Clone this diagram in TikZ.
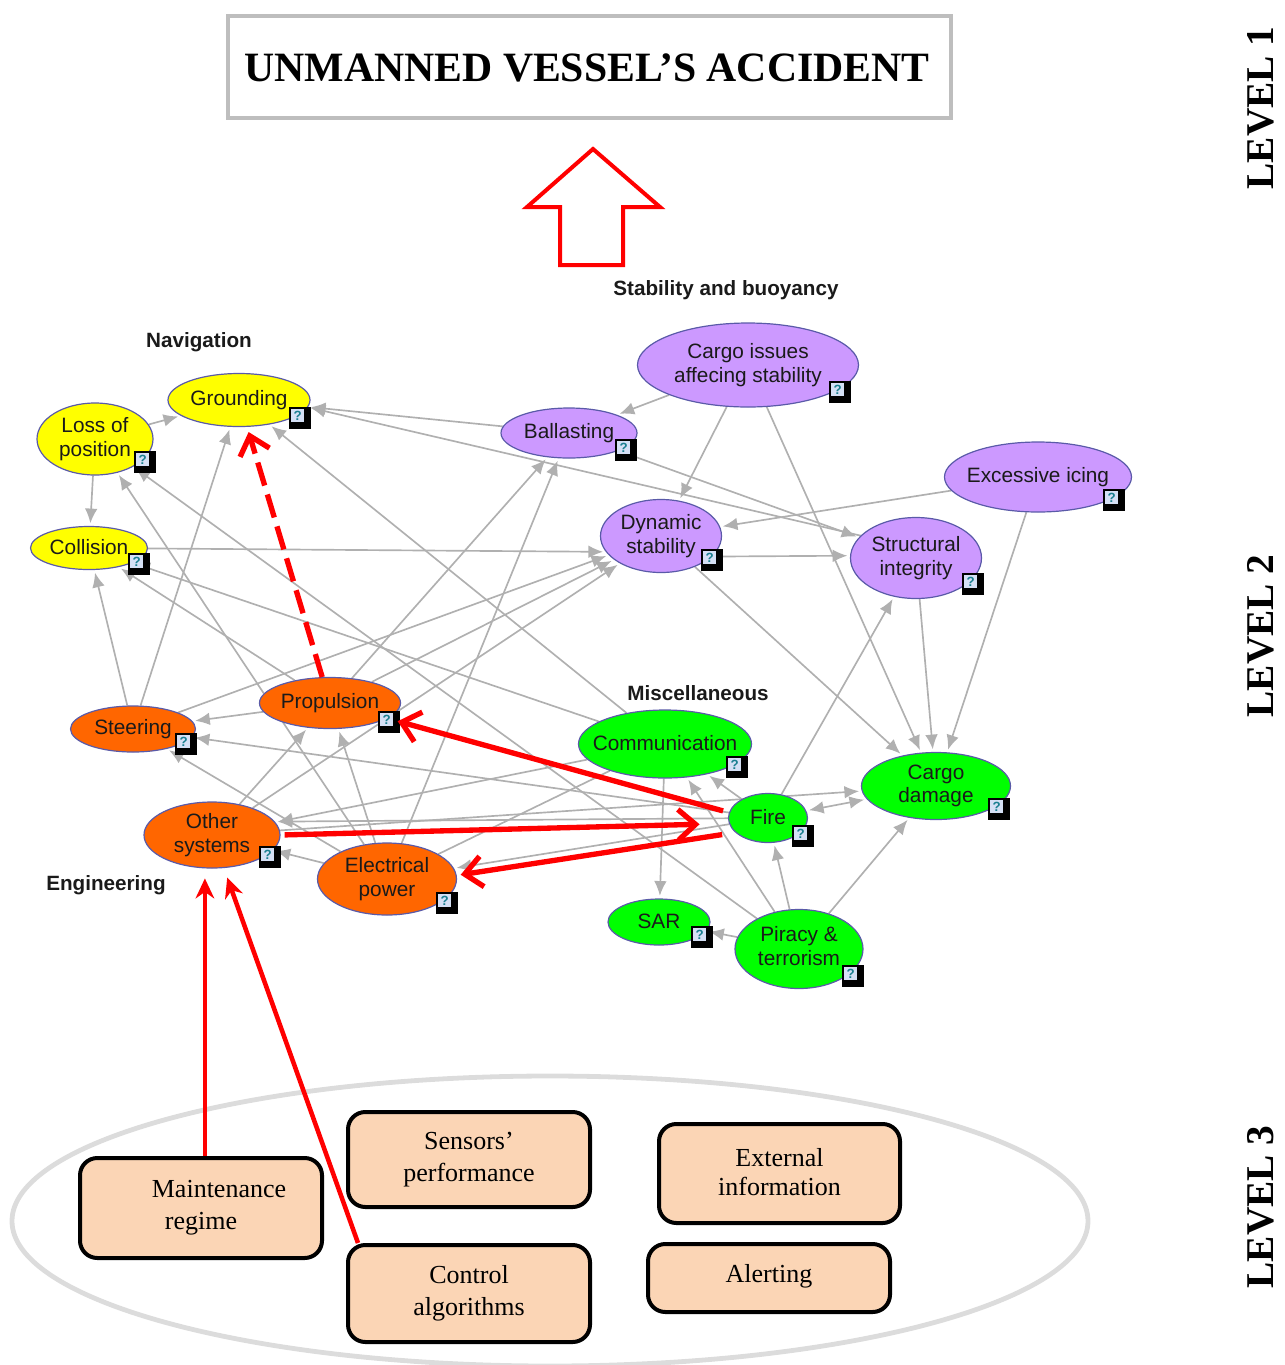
\documentclass[tikz,border=0pt]{standalone}
\usepackage{fontspec}
\setmainfont{Liberation Serif}
\setsansfont{Liberation Sans}
\usetikzlibrary{shapes.geometric,arrows.meta,backgrounds,calc}
\definecolor{edgegray}{HTML}{B0B0B0}
\definecolor{titlegray}{HTML}{BEBEBE}
\definecolor{ringgray}{HTML}{DCDCDC}
\definecolor{ellborder}{HTML}{5A5AA8}
\definecolor{nyellow}{HTML}{FFFF00}
\definecolor{norange}{HTML}{FF6600}
\definecolor{npurple}{HTML}{CC99FF}
\definecolor{ngreen}{HTML}{00FF00}
\definecolor{peach}{HTML}{FBD5B5}
\definecolor{redline}{HTML}{FF0000}
\definecolor{badgeq}{HTML}{1A7F90}
\definecolor{badgebg}{HTML}{D5E0F5}
\definecolor{inktext}{HTML}{1A1A1A}
\tikzset{
  sz/.style args={#1/#2}{minimum width=#1*0.75pt,minimum height=#2*0.75pt},
  ell/.style={ellipse,draw=ellborder,line width=0.9pt,inner xsep=-40pt,inner ysep=-25pt,align=center,text=inktext,
    font=\sffamily\fontsize{15.6}{17.8}\selectfont},
  cat/.style={font=\sffamily\bfseries\fontsize{15.5}{18}\selectfont,text=inktext},
  edge/.style={draw=edgegray,line width=1.25pt,shorten >=2pt,-{Latex[length=11pt,width=9.5pt]}},
  plainedge/.style={draw=edgegray,line width=1.25pt},
  bothedge/.style={draw=edgegray,line width=1.25pt,shorten >=2pt,shorten <=2pt,{Latex[length=11pt,width=9.5pt]}-{Latex[length=11pt,width=9.5pt]}},
  redarrow/.style={draw=redline,line width=4pt,-{Straight Barb[length=13pt,width=23pt]}},
  redup/.style={draw=redline,line width=3.4pt,-{Stealth[length=15pt,width=14pt]}},
  taskbox/.style={rounded corners=13pt,draw=black,line width=3pt,fill=peach,align=center,inner sep=0pt,
    font=\fontsize{19.5}{24}\selectfont},
  badgeout/.style={fill=black,minimum size=16.5pt,inner sep=0pt},
  badgein/.style={fill=badgebg,minimum size=10pt,inner sep=0pt,text=badgeq,font=\sffamily\bfseries\fontsize{10}{10}\selectfont},
  level/.style={rotate=90,font=\bfseries\fontsize{29.5}{31}\selectfont},
}
\newcommand{\askbadge}[3]{%
  \node[badgeout] (bo#1) at (#2,#3) {};
  \node[badgein,anchor=north west] (bi#1) at ($(bo#1.north west)+(2,2)$) {?};
}
\begin{document}
\begin{tikzpicture}[x=0.75pt,y=-0.75pt]
\useasboundingbox (0,0) rectangle (1285,1365);

% Level 1
\node[draw=titlegray,line width=3.6pt,sz=723/102,inner sep=0pt] (title) at (589.5,67) {};
\node[font=\bfseries\fontsize{31.3}{34}\selectfont] (titletext) at (587,68) {UNMANNED VESSEL’S ACCIDENT};
\draw[draw=redline,line width=3pt,line join=miter] (593,149) -- (660,207) -- (623,207) -- (623,265) -- (560,265) -- (560,207) -- (527,207) -- cycle;

\node[level] (l1) at (1261,108) {LEVEL 1};
\node[level] (l2) at (1261,636) {LEVEL 2};
\node[level] (l3) at (1261,1207) {LEVEL 3};

% categories
\node[cat] (cnav) at (199,342) {Navigation};
\node[cat] (cstab) at (726,290) {Stability and buoyancy};
\node[cat] (cmisc) at (698,693) {Miscellaneous};
\node[cat] (ceng) at (106,885) {Engineering};

% network nodes
\node[ell,fill=nyellow,sz=142/53] (ground) at (239,400) {\raisebox{0.8pt}{Grounding}};
\node[ell,fill=nyellow,sz=116/72] (loss) at (95,439) {Loss of\\position};
\node[ell,fill=nyellow,sz=117/43] (coll) at (89,548) {\raisebox{1pt}{Collision}};
\node[ell,fill=npurple,sz=136/50] (ball) at (569,433) {Ballasting};
\node[ell,fill=npurple,sz=221/84] (cargo) at (748,365) {Cargo issues\\affecing stability};
\node[ell,fill=npurple,sz=121/73] (dyn) at (661,536) {Dynamic\\stability};
\node[ell,fill=npurple,sz=131/81] (struct) at (916,558) {Structural\\integrity};
\node[ell,fill=npurple,sz=187/70] (icing) at (1038,477) {Excessive icing};
\node[ell,fill=norange,sz=125/46] (steer) at (133,729) {Steering};
\node[ell,fill=norange,sz=141/51] (prop) at (330,703) {Propulsion};
\node[ell,fill=norange,sz=136/66] (other) at (212,835) {Other\\systems};
\node[ell,fill=norange,sz=139/72] (elec) at (387,879) {Electrical\\power};
\node[ell,fill=ngreen,sz=173/68] (comm) at (665,744) {\raisebox{2pt}{Communication}};
\node[ell,fill=ngreen,sz=79/49] (fire) at (768,818) {\raisebox{1.5pt}{Fire}};
\node[ell,fill=ngreen,sz=149/67] (cdmg) at (936,786) {Cargo\\damage};
\node[ell,fill=ngreen,sz=102/46] (sar) at (659,922) {\raisebox{1.5pt}{SAR}};
\node[ell,fill=ngreen,sz=128/79] (piracy) at (799,949) {\raisebox{1pt}{\begin{tabular}{@{}c@{}}Piracy \&\\terrorism\end{tabular}}};

\begin{scope}[on background layer]
  \foreach \a/\b in {loss/ground,loss/coll,ball/ground,cargo/ball,cargo/dyn,cargo/cdmg,icing/dyn,icing/cdmg,
    dyn/cdmg,struct/cdmg,ball/struct,fire/struct,steer/dyn,prop/dyn,other/dyn,steer/coll,steer/ground,
    prop/coll,comm/coll,elec/loss,piracy/loss,comm/ground,prop/ball,elec/ball,other/prop,elec/prop,
    elec/other,elec/steer,prop/steer,fire/steer,comm/other,other/cdmg,fire/elec,fire/comm,piracy/comm,
    comm/sar,piracy/sar,piracy/fire,piracy/cdmg}
    {\draw[edge] (\a) -- (\b);}
  \draw[edge] (fire) -- (other.12);
  \draw[edge] (struct.158) -- (ground.-6);
  \draw[edge] (coll) -- (dyn.196);
  \draw[edge] (dyn.-22) -- (struct.178);
  \draw[plainedge] (elec) -- (comm);
  \draw[bothedge] (fire) -- (cdmg);
\end{scope}

% badges
\askbadge{ground}{300}{418}
\askbadge{loss}{145}{462}
\askbadge{coll}{139}{564}
\askbadge{ball}{626}{450}
\askbadge{cargo}{840}{392}
\askbadge{dyn}{712}{560}
\askbadge{struct}{973}{584}
\askbadge{icing}{1114}{500}
\askbadge{steer}{186}{744}
\askbadge{prop}{389}{722}
\askbadge{other}{270}{857}
\askbadge{elec}{447}{903}
\askbadge{comm}{737}{767}
\askbadge{fire}{803}{836}
\askbadge{cdmg}{999}{809}
\askbadge{sar}{702}{937}
\askbadge{piracy}{853}{976}

% Level 3
\node[ellipse,draw=ringgray,line width=3.6pt,sz=1076/290,inner sep=0pt] (ring) at (550,1221) {};
\node[taskbox,sz=242/100] (maint) at (201,1208) {\hspace{27pt}Maintenance\\regime};
\node[taskbox,sz=242/95] (sens) at (469,1159.5) {Sensors’\\performance};
\node[taskbox,sz=241/99] (ext) at (779.5,1173.5) {\raisebox{2.2pt}{External}\\[-2.2pt]\raisebox{2.2pt}{information}};
\node[taskbox,sz=242/97] (ctrl) at (469,1293.5) {Control\\algorithms};
\node[taskbox,sz=242/68] (alert) at (769,1278) {\raisebox{7.5pt}{Alerting}};

% red arrows
\draw[redarrow,dash pattern=on 18pt off 7pt,shorten >=4pt] (prop) -- (ground);
\draw[redarrow,shorten <=4.5pt,shorten >=8pt] (fire.172) -- (prop.-15);
\draw[redarrow,shorten <=3pt,shorten >=22pt] (other.east) -- (fire.188);
\draw[redarrow,shorten <=10pt,shorten >=3pt] (fire.204) -- (elec.3);
\draw[redup,shorten >=7.5pt] (maint.north -| other.-102) -- (other.-102);
\draw[redup,shorten >=7.5pt] ($(ctrl.north west)+(12,0)$) -- (other);
\end{tikzpicture}
\end{document}
